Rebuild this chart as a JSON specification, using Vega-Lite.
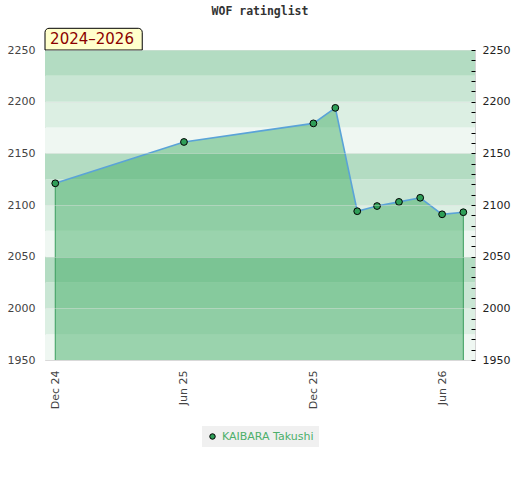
{
  "$schema": "https://vega.github.io/schema/vega-lite/v6.json",
  "description": "WOF ratinglist for KAIBARA Takushi, 2024-2026.",
  "autosize": "none",
  "padding": {"left": 45, "top": 50, "right": 45, "bottom": 120},
  "width": 430,
  "height": 310,
  "title": {
    "text": "WOF ratinglist",
    "font": "DejaVu Sans Mono",
    "fontSize": 11.5,
    "fontWeight": "bold",
    "color": "#333333",
    "offset": 10
  },
  "datasets": {
    "ratings": [
      {"date": "2024-12-01T00:00", "rating": 2121, "player": "KAIBARA Takushi"},
      {"date": "2025-06-01T00:00", "rating": 2161, "player": "KAIBARA Takushi"},
      {"date": "2025-12-01T00:00", "rating": 2179, "player": "KAIBARA Takushi"},
      {"date": "2026-01-01T00:00", "rating": 2194, "player": "KAIBARA Takushi"},
      {"date": "2026-02-01T00:00", "rating": 2094, "player": "KAIBARA Takushi"},
      {"date": "2026-03-01T00:00", "rating": 2099, "player": "KAIBARA Takushi"},
      {"date": "2026-04-01T00:00", "rating": 2103, "player": "KAIBARA Takushi"},
      {"date": "2026-05-01T00:00", "rating": 2107, "player": "KAIBARA Takushi"},
      {"date": "2026-06-01T00:00", "rating": 2091, "player": "KAIBARA Takushi"},
      {"date": "2026-07-01T00:00", "rating": 2093, "player": "KAIBARA Takushi"}
    ],
    "bands": [
      {"lo": 1950, "hi": 1975, "shade": "a"},
      {"lo": 1975, "hi": 2000, "shade": "b"},
      {"lo": 2000, "hi": 2025, "shade": "c"},
      {"lo": 2025, "hi": 2050, "shade": "d"},
      {"lo": 2050, "hi": 2075, "shade": "a"},
      {"lo": 2075, "hi": 2100, "shade": "b"},
      {"lo": 2100, "hi": 2125, "shade": "c"},
      {"lo": 2125, "hi": 2150, "shade": "d"},
      {"lo": 2150, "hi": 2175, "shade": "a"},
      {"lo": 2175, "hi": 2200, "shade": "b"},
      {"lo": 2200, "hi": 2225, "shade": "c"},
      {"lo": 2225, "hi": 2250, "shade": "d"}
    ],
    "badge": [{"label": "2024–2026"}]
  },
  "data": {"name": "ratings"},
  "layer": [
    {
      "data": {"name": "bands"},
      "mark": {"type": "rect"},
      "encoding": {
        "y": {
          "field": "lo",
          "type": "quantitative",
          "scale": {"domain": [1950, 2250], "zero": false, "nice": false},
          "axis": {
            "orient": "left",
            "title": null,
            "values": [1950, 2000, 2050, 2100, 2150, 2200, 2250],
            "format": "d",
            "ticks": false,
            "domain": false,
            "labelPadding": 10,
            "labelColor": "#444444",
            "labelFont": "DejaVu Sans",
            "labelFontSize": 11,
            "grid": true,
            "gridColor": "#e2e2e2",
            "gridOpacity": 0.4,
            "zindex": 1
          }
        },
        "y2": {"field": "hi"},
        "fill": {
          "field": "shade",
          "type": "nominal",
          "scale": {"domain": ["a", "b", "c", "d"], "range": ["#eff7f2", "#dcefe3", "#c9e6d4", "#b3dcc2"]},
          "legend": null
        }
      }
    },
    {
      "mark": {"type": "area", "color": "#3caa5f", "opacity": 0.47},
      "encoding": {
        "x": {
          "field": "date",
          "type": "temporal",
          "scale": {
            "domain": [
              {"year": 2024, "month": 11, "date": 16, "hours": 12},
              {"year": 2026, "month": 7, "date": 17, "hours": 12}
            ]
          },
          "axis": {
            "title": null,
            "values": [
              {"year": 2024, "month": 12, "date": 1},
              {"year": 2025, "month": 6, "date": 1},
              {"year": 2025, "month": 12, "date": 1},
              {"year": 2026, "month": 6, "date": 1}
            ],
            "format": "%b %y",
            "labelAngle": -90,
            "ticks": false,
            "domain": false,
            "grid": false,
            "labelPadding": 10,
            "labelColor": "#444444",
            "labelFont": "DejaVu Sans",
            "labelFontSize": 11
          }
        },
        "y": {"field": "rating", "type": "quantitative", "axis": null},
        "y2": {"datum": 1950}
      }
    },
    {
      "transform": [{"filter": "datum.rating == 2121 || datum.rating == 2093"}],
      "mark": {"type": "rule", "color": "#3a9d5d", "strokeWidth": 1},
      "encoding": {
        "x": {"field": "date", "type": "temporal"},
        "y": {"field": "rating", "type": "quantitative", "axis": null},
        "y2": {"datum": 1950}
      }
    },
    {
      "mark": {"type": "line", "color": "#5aa3d8", "strokeWidth": 1.6},
      "encoding": {
        "x": {"field": "date", "type": "temporal"},
        "y": {
          "field": "rating",
          "type": "quantitative",
          "axis": {
            "orient": "right",
            "title": null,
            "values": [1950, 1960, 1970, 1980, 1990, 2000, 2010, 2020, 2030, 2040, 2050, 2060, 2070, 2080, 2090, 2100, 2110, 2120, 2130, 2140, 2150, 2160, 2170, 2180, 2190, 2200, 2210, 2220, 2230, 2240, 2250],
            "format": "d",
            "labelExpr": "datum.value % 50 === 0 ? datum.label : ''",
            "tickSize": -4,
            "tickOffset": 0,
            "tickColor": "#000000",
            "zindex": 1,
            "domain": false,
            "grid": false,
            "labelPadding": 11,
            "labelColor": "#222222",
            "labelFont": "DejaVu Sans",
            "labelFontSize": 11
          }
        }
      }
    },
    {
      "mark": {"type": "point", "filled": true, "size": 46, "stroke": "#000000", "strokeWidth": 1, "opacity": 1},
      "encoding": {
        "x": {"field": "date", "type": "temporal"},
        "y": {"field": "rating", "type": "quantitative", "axis": null},
        "color": {
          "field": "player",
          "type": "nominal",
          "scale": {"range": ["#2f9e58"]},
          "legend": {
            "title": null,
            "orient": "bottom",
            "direction": "horizontal",
            "fillColor": "#f0f0f0",
            "padding": 5,
            "offset": 17,
            "symbolType": "circle",
            "symbolSize": 30,
            "symbolStrokeColor": "#000000",
            "symbolStrokeWidth": 1,
            "labelColor": "#4caf6a",
            "labelFont": "DejaVu Sans",
            "labelFontSize": 11
          }
        }
      }
    },
    {
      "data": {"name": "badge"},
      "mark": {"type": "rect", "fill": "#ffffcc", "stroke": "#000000", "strokeWidth": 1, "cornerRadiusTopLeft": 4, "cornerRadiusTopRight": 4, "clip": false},
      "encoding": {
        "x": {"datum": {"year": 2024, "month": 11, "date": 16, "hours": 12}, "type": "temporal"},
        "x2": {"datum": {"year": 2025, "month": 4, "date": 3}},
        "y": {"datum": 2250, "type": "quantitative", "axis": null},
        "y2": {"datum": 2271}
      }
    },
    {
      "data": {"name": "badge"},
      "mark": {"type": "text", "color": "#8b0000", "font": "DejaVu Sans", "fontSize": 15, "align": "center", "baseline": "middle", "clip": false},
      "encoding": {
        "text": {"field": "label"},
        "x": {"datum": {"year": 2025, "month": 1, "date": 22}, "type": "temporal"},
        "y": {"datum": 2260.5, "type": "quantitative", "axis": null}
      }
    }
  ],
  "resolve": {"axis": {"y": "independent"}},
  "config": {
    "view": {"stroke": "#d4d4d4", "strokeWidth": 1},
    "legend": {"layout": {"bottom": {"anchor": "middle"}}}
  }
}
